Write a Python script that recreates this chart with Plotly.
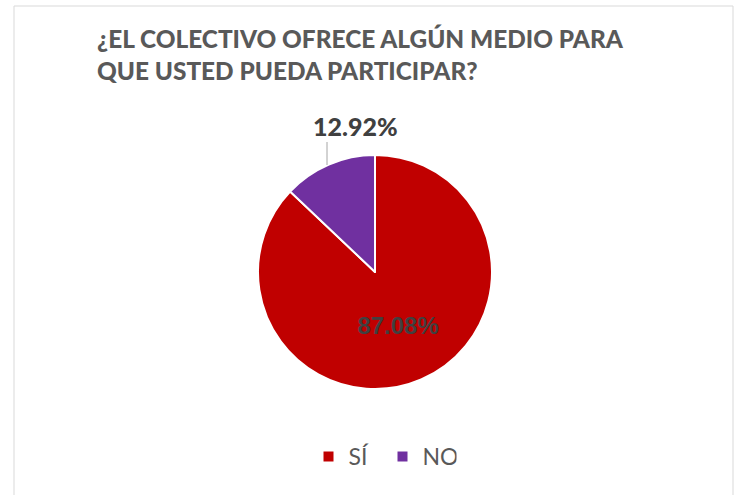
import plotly.graph_objects as go

labels = ["SÍ", "NO"]
values = [87.08, 12.92]
colors = ["#C00000", "#7030A0"]
title_text = "¿EL COLECTIVO OFRECE ALGÚN MEDIO PARA<br>QUE USTED PUEDA PARTICIPAR?"

W, H = 739, 495
cx, cy, r = 375, 272, 117

fig = go.Figure(go.Pie(
    labels=labels,
    values=values,
    sort=False,
    direction="clockwise",
    rotation=0,
    marker=dict(colors=colors, line=dict(color="white", width=2)),
    texttemplate="%{value:.2f}%",
    textposition=["inside", "none"],
    insidetextfont=dict(family="Liberation Sans", size=24, color="#404040", weight="bold"),
    domain=dict(x=[(cx - r) / W, (cx + r) / W], y=[1 - (cy + r) / H, 1 - (cy - r) / H]),
    hoverinfo="label+percent",
))

fig.add_annotation(
    text=f"{values[1]:.2f}%", xref="paper", yref="paper",
    x=355 / W, y=1 - 126 / H, xanchor="center", yanchor="middle", showarrow=False,
    font=dict(family="Lato", size=25, color="#404040", weight=900),
)

fig.update_layout(
    width=W, height=H,
    margin=dict(l=0, r=0, t=0, b=0),
    paper_bgcolor="white",
    title=dict(text=title_text, x=97 / W, xanchor="left", y=1 - 48 / H, yanchor="top",
               font=dict(family="Lato", size=24.4, color="#595959", weight=900)),
    legend=dict(orientation="h", x=382.5 / W, xanchor="center", y=1 - 435 / H, yanchor="top",
                font=dict(family="Lato", size=23, color="#595959"),
                itemwidth=30, entrywidth=29, entrywidthmode="pixels"),
    shapes=[
        dict(type="rect", xref="paper", yref="paper", x0=14 / W, x1=733 / W,
             y0=-0.01, y1=1 - 6 / H, line=dict(color="#D9D9D9", width=1)),
        dict(type="line", xref="paper", yref="paper", x0=327 / W, x1=327 / W,
             y0=1 - 142 / H, y1=1 - 165 / H, line=dict(color="#A6A6A6", width=1)),
    ],
)

fig.write_html("out.html", config={"displayModeBar": False},
               post_script="document.body.style.margin='0';")
